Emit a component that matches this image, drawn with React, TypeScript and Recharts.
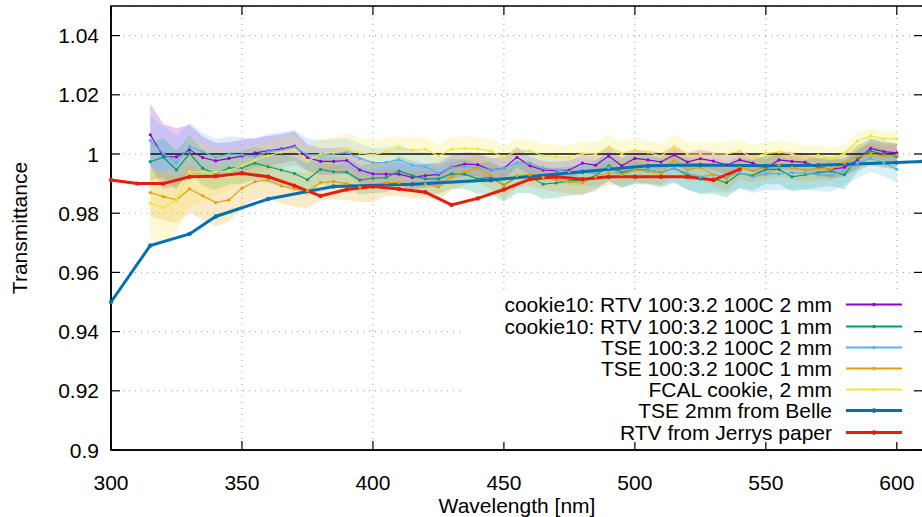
import React from "react";
import {
  ComposedChart,
  Line,
  Area,
  XAxis,
  YAxis,
  CartesianGrid,
  ReferenceLine,
  ReferenceArea,
} from "recharts";

// ---------------- data ----------------
const WL = [
  315, 320, 325, 330, 335, 340, 345, 350, 355, 360,
  365, 370, 375, 380, 385, 390, 395, 400, 405, 410,
  415, 420, 425, 430, 435, 440, 445, 450, 455, 460,
  465, 470, 475, 480, 485, 490, 495, 500, 505, 510,
  515, 520, 525, 530, 535, 540, 545, 550, 555, 560,
  565, 570, 575, 580, 585, 590, 595, 600,
];

const RTV2 = [
  1.0065, 0.9991, 0.999, 1.0014, 0.9988, 0.9977, 0.9985, 0.9993, 1.0004, 1.0011,
  1.0017, 1.0027, 0.9988, 0.9975, 0.9975, 0.9978, 0.9946, 0.9933, 0.9932, 0.9932,
  0.9921, 0.9927, 0.9931, 0.9956, 0.9966, 0.9964, 0.9946, 0.9952, 0.9989, 0.996,
  0.9946, 0.9944, 0.9946, 0.9969, 0.9962, 0.9993, 0.996, 0.9985, 0.998, 0.9973,
  0.9997, 0.9973, 0.9984, 0.9976, 0.9963, 0.998, 0.9969, 0.9952, 0.998, 0.9975,
  0.9972, 0.9955, 0.9948, 0.9955, 0.998, 1.0019, 1.0008, 1.0004,
];
const RTV2_ERR = [
  0.0105, 0.011, 0.0097, 0.0085, 0.007, 0.006, 0.0055, 0.0055, 0.005, 0.005,
  0.005, 0.005, 0.0045, 0.0045, 0.0045, 0.0045, 0.0045, 0.004, 0.004, 0.004,
  0.004, 0.004, 0.004, 0.004, 0.004, 0.004, 0.004, 0.0035, 0.0035, 0.003,
  0.003, 0.003, 0.0032, 0.003, 0.003, 0.0032, 0.003, 0.003, 0.003, 0.003,
  0.003, 0.003, 0.003, 0.003, 0.0032, 0.003, 0.003, 0.003, 0.003, 0.003,
  0.003, 0.003, 0.003, 0.003, 0.003, 0.003, 0.003, 0.003,
];

const RTV1 = [
  0.9974, 0.9989, 0.9946, 1.0002, 0.9952, 0.9933, 0.9952, 0.9954, 0.9969, 0.9957,
  0.9946, 0.9934, 0.9913, 0.9948, 0.994, 0.9939, 0.9912, 0.9918, 0.992, 0.9943,
  0.9927, 0.9916, 0.9916, 0.9933, 0.9932, 0.9916, 0.9921, 0.9895, 0.9923, 0.9923,
  0.9898, 0.9902, 0.9909, 0.9912, 0.9926, 0.996, 0.9937, 0.9948, 0.9947, 0.9937,
  0.9952, 0.993, 0.9915, 0.9916, 0.9903, 0.9935, 0.9927, 0.9948, 0.9948, 0.9923,
  0.993, 0.9937, 0.9942, 0.993, 0.9985, 1.001, 1.0, 0.9991,
];
const RTV1_ERR = [
  0.0065, 0.0065, 0.0065, 0.006, 0.006, 0.0055, 0.0055, 0.0055, 0.0055, 0.0055,
  0.0055, 0.0055, 0.0055, 0.005, 0.005, 0.005, 0.005, 0.005, 0.005, 0.005,
  0.005, 0.005, 0.005, 0.005, 0.005, 0.005, 0.0055, 0.0056, 0.0055, 0.0055,
  0.005, 0.005, 0.005, 0.005, 0.005, 0.005, 0.005, 0.005, 0.005, 0.005,
  0.005, 0.005, 0.005, 0.005, 0.005, 0.005, 0.005, 0.005, 0.005, 0.005,
  0.005, 0.005, 0.005, 0.005, 0.0045, 0.0045, 0.0045, 0.0045,
];

const TSE2 = [
  1.0045, 1.0002, 0.9971, 1.0025, 1.0008, 0.9989, 1.0, 0.9997, 0.9991, 1.0008,
  1.0013, 1.0023, 0.9997, 0.9997, 1.0, 1.0005, 0.9985, 0.9971, 0.9972, 0.998,
  0.9963, 0.9957, 0.9935, 0.9955, 0.9957, 0.9955, 0.9946, 0.9952, 0.9971, 0.9968,
  0.9952, 0.9946, 0.994, 0.9938, 0.9935, 0.9954, 0.993, 0.9946, 0.9946, 0.9938,
  0.9952, 0.9935, 0.9923, 0.993, 0.9923, 0.9937, 0.9923, 0.9933, 0.9933, 0.9937,
  0.9935, 0.993, 0.9927, 0.9946, 0.9969, 0.9985, 0.9971, 0.9948,
];
const TSE2_ERR = [
  0.0085, 0.009, 0.009, 0.008, 0.0065, 0.006, 0.006, 0.006, 0.006, 0.006,
  0.006, 0.006, 0.0055, 0.005, 0.005, 0.005, 0.005, 0.005, 0.005, 0.005,
  0.005, 0.005, 0.005, 0.005, 0.0045, 0.0045, 0.0045, 0.0045, 0.0045, 0.0045,
  0.0045, 0.0045, 0.0045, 0.0045, 0.0045, 0.0045, 0.0045, 0.0045, 0.0045, 0.0045,
  0.0045, 0.0055, 0.0055, 0.0057, 0.0055, 0.0055, 0.0055, 0.0055, 0.0055, 0.0056,
  0.0056, 0.0056, 0.0055, 0.005, 0.005, 0.0045, 0.0045, 0.0045,
];

const TSE1 = [
  0.987, 0.9856, 0.9845, 0.9882, 0.9859, 0.9836, 0.9845, 0.9884, 0.9907, 0.9912,
  0.9892, 0.9882, 0.9876, 0.9903, 0.9907, 0.99, 0.9888, 0.9888, 0.9903, 0.9903,
  0.9895, 0.9898, 0.9888, 0.9923, 0.994, 0.9952, 0.9927, 0.9895, 0.9927, 0.993,
  0.9921, 0.9912, 0.9906, 0.9903, 0.9923, 0.9937, 0.9932, 0.9946, 0.994, 0.9935,
  0.9978, 0.9946, 0.9955, 0.993, 0.9915, 0.9955, 0.9944, 0.9955, 0.9963, 0.9955,
  0.9946, 0.9952, 0.995, 0.9969, 0.9991, 1.0, 0.9994, 0.9996,
];
const TSE1_ERR = [
  0.008, 0.008, 0.008, 0.008, 0.008, 0.008, 0.0075, 0.006, 0.006, 0.006,
  0.006, 0.006, 0.006, 0.006, 0.006, 0.0055, 0.005, 0.005, 0.0045, 0.0045,
  0.0045, 0.0045, 0.0045, 0.0045, 0.0045, 0.0045, 0.0045, 0.0045, 0.004, 0.004,
  0.004, 0.004, 0.004, 0.004, 0.004, 0.004, 0.004, 0.004, 0.004, 0.004,
  0.004, 0.004, 0.004, 0.004, 0.004, 0.004, 0.004, 0.004, 0.004, 0.004,
  0.004, 0.004, 0.004, 0.004, 0.004, 0.004, 0.004, 0.004,
];

const FCAL = [
  0.9834, 0.9819, 0.9845, 0.994, 0.9939, 0.9938, 0.9944, 0.996, 0.998, 0.9994,
  1.0006, 1.0015, 0.9977, 0.9999, 1.0006, 1.0019, 1.0004, 0.9997, 1.0008, 1.0019,
  1.0013, 1.0016, 0.9993, 1.0016, 1.0019, 1.0017, 1.001, 0.9989, 1.001, 1.001,
  0.9994, 0.9991, 0.9989, 1.0002, 1.0, 1.0023, 1.0002, 1.0013, 1.0006, 0.9993,
  1.0025, 1.0, 1.0, 1.0, 1.0, 1.001, 0.9989, 1.0002, 1.0006, 1.0,
  0.9985, 0.9996, 0.9985, 1.0002, 1.0044, 1.0061, 1.0051, 1.0051,
];
const FCAL_ERR = [
  0.012, 0.012, 0.011, 0.012, 0.01, 0.008, 0.007, 0.006, 0.005, 0.005,
  0.005, 0.005, 0.005, 0.005, 0.005, 0.005, 0.005, 0.005, 0.0045, 0.004,
  0.004, 0.004, 0.004, 0.004, 0.004, 0.004, 0.004, 0.004, 0.004, 0.004,
  0.004, 0.004, 0.004, 0.004, 0.004, 0.004, 0.004, 0.004, 0.004, 0.004,
  0.004, 0.004, 0.004, 0.004, 0.004, 0.004, 0.004, 0.004, 0.004, 0.004,
  0.004, 0.0035, 0.0035, 0.003, 0.0028, 0.0025, 0.0025, 0.0025,
];

const BELLE_WL = [300, 315, 330, 340, 360, 385, 415, 445, 480, 505, 525, 550, 570, 600, 610];
const BELLE = [0.95, 0.9691, 0.973, 0.9789, 0.9848, 0.989, 0.9898, 0.9912, 0.994, 0.996, 0.9963, 0.996, 0.9962, 0.9971, 0.9975];

const RED_WL = [300, 310, 320, 330, 340, 350, 360, 370, 380, 390, 400, 410, 420, 430, 440, 450, 460, 470, 480, 490, 500, 510, 520, 530, 540];
const RED = [
  0.9912, 0.99, 0.99, 0.9923, 0.9925, 0.9935, 0.9923, 0.9893, 0.9858, 0.988,
  0.989, 0.9882, 0.9871, 0.9828, 0.985, 0.988, 0.9915, 0.9923, 0.9915, 0.9923,
  0.9923, 0.9923, 0.9923, 0.9912, 0.9948,
];

const X_TICKS = [300, 350, 400, 450, 500, 550, 600];
const Y_TICKS = [0.9, 0.92, 0.94, 0.96, 0.98, 1, 1.02, 1.04];

const SERIES = [
  { key: "rtv2", name: "cookie10: RTV 100:3.2 100C 2 mm", color: "#9400d3", values: RTV2, err: RTV2_ERR },
  { key: "rtv1", name: "cookie10: RTV 100:3.2 100C 1 mm", color: "#009e73", values: RTV1, err: RTV1_ERR },
  { key: "tse2", name: "TSE 100:3.2 100C 2 mm", color: "#56b4e9", values: TSE2, err: TSE2_ERR },
  { key: "tse1", name: "TSE 100:3.2 100C 1 mm", color: "#e69f00", values: TSE1, err: TSE1_ERR },
  { key: "fcal", name: "FCAL cookie, 2 mm", color: "#f0e442", values: FCAL, err: FCAL_ERR },
];
const BELLE_NAME = "TSE 2mm from Belle";
const RED_NAME = "RTV from Jerrys paper";
const BELLE_COLOR = "#0072b2";
const RED_COLOR = "#e51e10";

// ------------- build table -------------
const allWl = Array.from(new Set([...WL, ...BELLE_WL, ...RED_WL])).sort((a, b) => a - b);
const table = allWl.map((wl) => {
  const row: any = { wl };
  const i = WL.indexOf(wl);
  SERIES.forEach((s) => {
    if (i >= 0) {
      row[s.key] = s.values[i];
      row[s.key + "Band"] = [s.values[i] - s.err[i], s.values[i] + s.err[i]];
    }
  });
  const b = BELLE_WL.indexOf(wl);
  if (b >= 0) row.belle = BELLE[b];
  const r = RED_WL.indexOf(wl);
  if (r >= 0) row.red = RED[r];
  return row;
});

// ------------- layout -------------
const FONT = "'Liberation Sans', Arial, Helvetica, sans-serif";
const FS = 21;
const CHART_W = 935;
const CHART_H = 517;
const PLOT_LEFT = 111;
const PLOT_TOP = 6;
const PLOT_BOTTOM = 450;
const PLOT_RIGHT = 923;
const TICK_LEN = 9;

const XTick = (props: any) => {
  const { x, payload } = props;
  return (
    <g>
      <line x1={x} x2={x} y1={PLOT_BOTTOM} y2={PLOT_BOTTOM - TICK_LEN} stroke="#000" strokeWidth={1.2} />
      <line x1={x} x2={x} y1={PLOT_TOP} y2={PLOT_TOP + TICK_LEN} stroke="#000" strokeWidth={1.2} />
      <text x={x} y={482} textAnchor="middle" dominantBaseline="central" fontFamily={FONT} fontSize={FS} fill="#000">
        {String(payload.value)}
      </text>
    </g>
  );
};

const YTick = (props: any) => {
  const { y, payload } = props;
  return (
    <g>
      <line x1={PLOT_LEFT} x2={PLOT_LEFT + TICK_LEN} y1={y} y2={y} stroke="#000" strokeWidth={1.2} />
      <line x1={PLOT_RIGHT - TICK_LEN} x2={PLOT_RIGHT} y1={y} y2={y} stroke="#000" strokeWidth={1.2} />
      <text x={99} y={y} textAnchor="end" dominantBaseline="central" fontFamily={FONT} fontSize={FS} fill="#000">
        {String(payload.value)}
      </text>
    </g>
  );
};

const XLabel = (props: any) => {
  const vb = props.viewBox || { x: PLOT_LEFT, y: PLOT_BOTTOM, width: PLOT_RIGHT - PLOT_LEFT, height: 67 };
  return (
    <text x={vb.x + vb.width / 2} y={505} textAnchor="middle" dominantBaseline="central" fontFamily={FONT} fontSize={FS} fill="#000">
      Wavelength [nm]
    </text>
  );
};

const YLabel = () => (
  <text
    x={19}
    y={228}
    transform="rotate(-90 19 228)"
    textAnchor="middle"
    dominantBaseline="central"
    fontFamily={FONT}
    fontSize={FS}
    fill="#000"
  >
    Transmittance
  </text>
);

const legendItems = [
  ...SERIES.map((s) => ({ name: s.name, color: s.color, w: 2 })),
  { name: BELLE_NAME, color: BELLE_COLOR, w: 3 },
  { name: RED_NAME, color: RED_COLOR, w: 3 },
];

export default function App() {
  return (
    <div style={{ position: "absolute", left: 0, top: 0, width: 922, height: 517, overflow: "hidden", background: "#fff" }}>
      <ComposedChart
        width={CHART_W}
        height={CHART_H}
        data={table}
        margin={{ top: PLOT_TOP, right: CHART_W - PLOT_RIGHT, bottom: 0, left: 0 }}
      >
        <CartesianGrid stroke="#9a9a9a" strokeDasharray="1 5" strokeWidth={1} />
        <XAxis
          dataKey="wl"
          type="number"
          domain={[300, 610]}
          ticks={X_TICKS}
          interval={0}
          height={CHART_H - PLOT_BOTTOM}
          tickLine={false}
          axisLine={{ stroke: "#000", strokeWidth: 1.5 }}
          tick={<XTick />}
          label={<XLabel />}
        />
        <YAxis
          type="number"
          domain={[0.9, 1.05]}
          ticks={Y_TICKS}
          interval={0}
          width={PLOT_LEFT}
          tickLine={false}
          axisLine={{ stroke: "#000", strokeWidth: 1.5 }}
          tick={<YTick />}
          label={<YLabel />}
        />
        {SERIES.map((s) => (
          <Area
            key={s.key + "Band"}
            dataKey={s.key + "Band"}
            type="linear"
            stroke="none"
            fill={s.color}
            fillOpacity={0.22}
            isAnimationActive={false}
            dot={false}
            activeDot={false}
          />
        ))}
        <ReferenceLine
          segment={[{ x: 315, y: 1 }, { x: 600, y: 1 }]}
          stroke="#111"
          strokeWidth={1.5}
        />
        {SERIES.map((s) => (
          <Line
            key={s.key}
            dataKey={s.key}
            type="linear"
            stroke={s.color}
            strokeWidth={1.2}
            dot={{ r: 1.6, fill: s.color, stroke: s.color, strokeWidth: 0 }}
            activeDot={false}
            isAnimationActive={false}
          />
        ))}
        <Line
          dataKey="belle"
          type="linear"
          stroke={BELLE_COLOR}
          strokeWidth={3}
          connectNulls
          dot={{ r: 2.2, fill: BELLE_COLOR, stroke: BELLE_COLOR, strokeWidth: 0 }}
          activeDot={false}
          isAnimationActive={false}
        />
        <Line
          dataKey="red"
          type="linear"
          stroke={RED_COLOR}
          strokeWidth={3}
          connectNulls
          dot={{ r: 2.2, fill: RED_COLOR, stroke: RED_COLOR, strokeWidth: 0 }}
          activeDot={false}
          isAnimationActive={false}
        />
        <ReferenceArea x1={300} x2={610} y1={0.9} y2={1.05} fill="none" stroke="#000" strokeWidth={1.5} ifOverflow="visible" />
      </ComposedChart>
      <div
        style={{
          position: "absolute",
          left: 465,
          top: 289,
          width: 447,
          height: 153,
          background: "#fff",
          fontFamily: FONT,
          fontSize: FS,
          color: "#000",
        }}
      >
        {legendItems.map((it, i) => (
          <div
            key={it.name}
            style={{
              position: "absolute",
              left: 0,
              top: 5.4 + i * 21.2,
              width: 447,
              height: 21.2,
              lineHeight: "21.2px",
            }}
          >
            <span style={{ position: "absolute", right: 447 - 367, whiteSpace: "nowrap" }}>{it.name}</span>
            <svg style={{ position: "absolute", left: 381, top: 0 }} width={57} height={21.2}>
              <line x1={0} x2={56} y1={10.6} y2={10.6} stroke={it.color} strokeWidth={it.w} />
              <circle cx={28} cy={10.6} r={it.w > 2 ? 2.4 : 1.8} fill={it.color} />
            </svg>
          </div>
        ))}
      </div>
    </div>
  );
}
